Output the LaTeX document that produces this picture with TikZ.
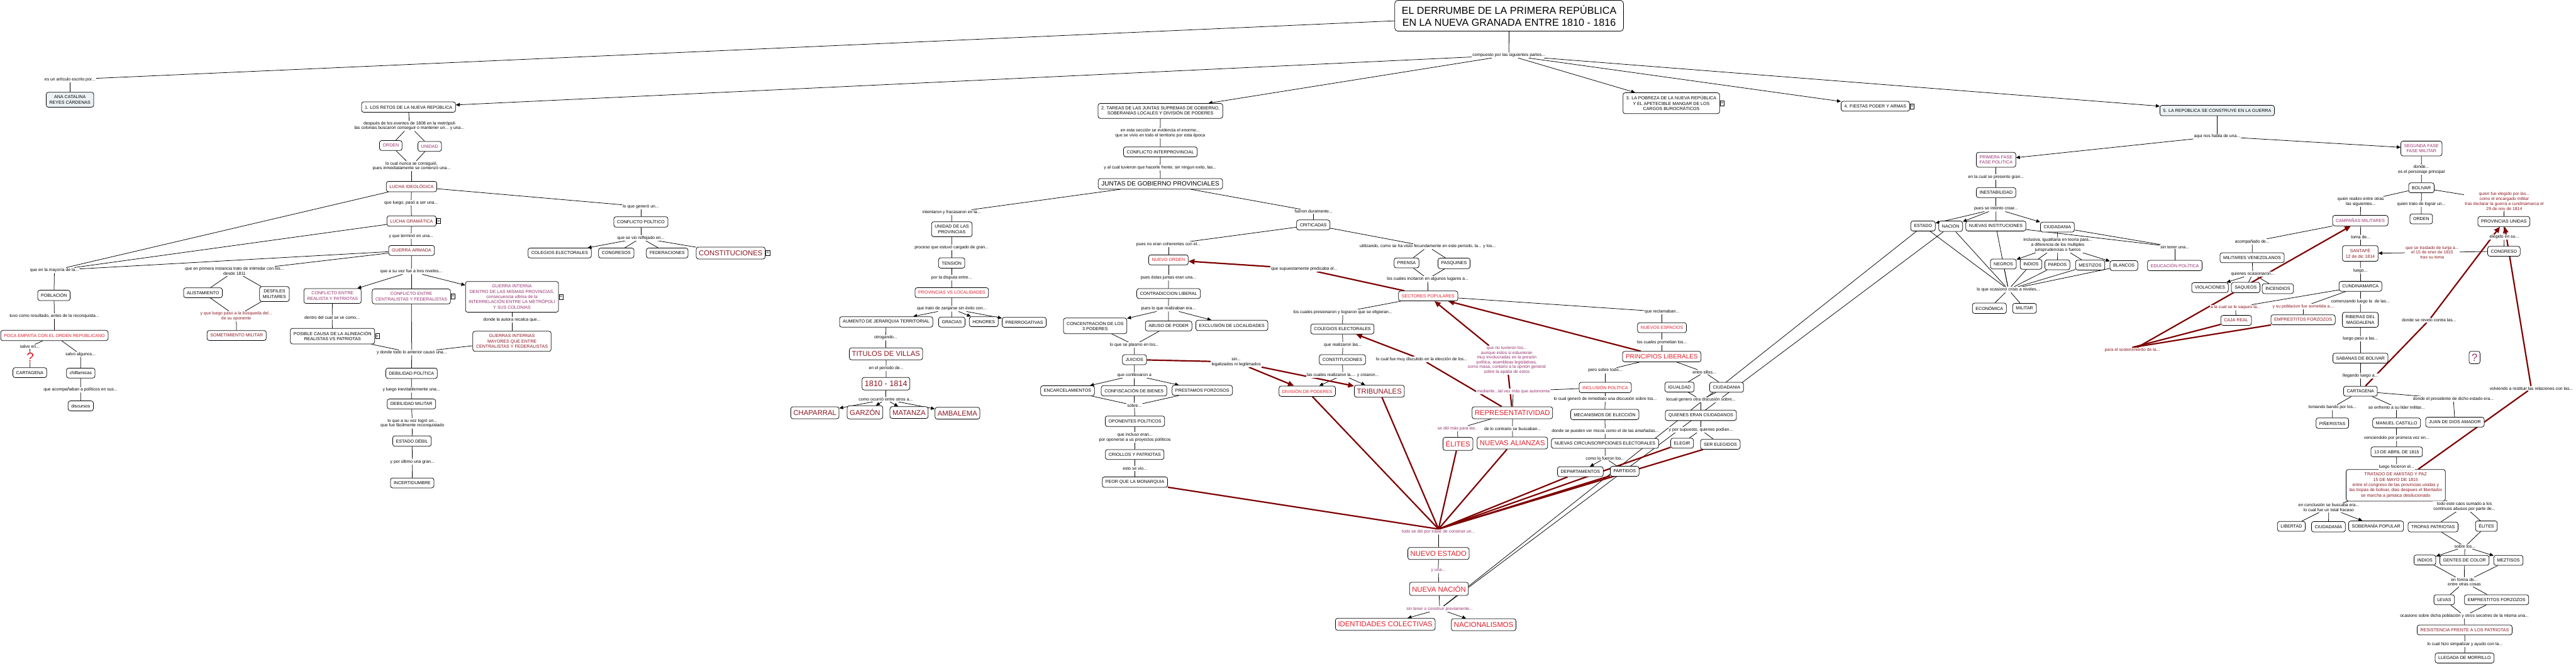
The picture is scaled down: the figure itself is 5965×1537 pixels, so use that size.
\documentclass[tikz,border=0pt]{standalone}
\usepackage{fontspec}
\setmainfont{Liberation Sans}
\usetikzlibrary{arrows.meta}
\definecolor{dred}{RGB}{140,22,32}
\definecolor{bred}{RGB}{228,28,40}
\definecolor{purp}{RGB}{150,48,110}
\definecolor{lred}{RGB}{125,0,0}
\definecolor{lfill}{RGB}{236,242,244}
\pgfdeclarelayer{bg}
\pgfsetlayers{bg,main}
\newcommand\fLab{\fontsize{10}{11.3}\selectfont}
\newcommand\fBox{\fontsize{10.3}{12.2}\selectfont}
\newcommand\fBig{\fontsize{16.5}{19}\selectfont}
\newcommand\fMid{\fontsize{14.5}{17}\selectfont}
\newcommand\fTit{\fontsize{23.5}{28.7}\selectfont}
\tikzset{
 bx/.style={draw, rounded corners=5pt, fill=white, line width=1.1pt, align=center, inner xsep=7.5pt, inner ysep=7.5pt, minimum height=23pt, font=\fBox},
 bigbx/.style={bx, font=\fBig, inner ysep=8pt, inner xsep=6pt},
 midbx/.style={bx, font=\fMid, inner ysep=7pt},
 lb/.style={fill=white, inner sep=1.5pt, align=center, font=\fLab},
 tr/.style={text=bred}, td/.style={text=dred}, tp/.style={text=purp},
 mkst/.style={draw, fill=white, line width=0.8pt, inner sep=0.6pt, font=\fontsize{10}{10}\selectfont, minimum height=12pt, minimum width=9pt},
 cn/.style={line width=1.1pt, draw=black},
 ca/.style={cn, -{Triangle[length=9pt,width=8pt]}},
 rd/.style={line width=3.2pt, draw=lred},
 ra/.style={rd, -{Triangle[length=14pt,width=12pt]}},
}
\newcommand\mkr[1]{\node[mkst, anchor=west] at ([xshift=0.5pt]#1.east) {»};}
\begin{document}
\begin{tikzpicture}[x=1pt,y=-1pt]
\useasboundingbox (0,0) rectangle (5965,1537);
% ---------- title ----------
\node[bx, font=\fTit, inner xsep=16pt, inner ysep=11pt, rounded corners=7pt] (title) at (3494.5,36.5) {EL DERRUMBE DE LA PRIMERA REPÚBLICA\\EN LA NUEVA GRANADA ENTRE 1810 - 1816};
\node[lb] (l_comp) at (3494,128) {compuesto por las siguientes partes...};
\node[lb] (l_art) at (162,184) {es un artículo escrito por...};
\node[bx, fill=lfill] (ana) at (162,231) {ANA CATALINA\\REYES CÁRDENAS};
% ---------- section 1 ----------
\node[bx] (s1) at (946,248) {1. LOS RETOS DE LA NUEVA REPÚBLICA};
\node[lb] (l1a) at (948,291.6) {después de los eventos de 1808 en la metrópoli\\las colonias buscaron conseguir o mantener un... y una...};
\node[bx,tp] (orden1) at (905,337) {ORDEN};
\node[bx,tp] (unidad) at (995,339) {UNIDAD};
\node[lb] (l1b) at (953,384.6) {lo cual nunca se consiguió,\\pues inmediatamente se comenzó una...};
\node[bx,td] (lideo) at (953,432) {LUCHA IDEOLÓGICA};
\node[lb] (l1c) at (952,469.6) {que luego, pasó a ser una...};
\node[bx,td] (lgram) at (953,512) {LUCHA GRAMÁTICA}; \mkr{lgram}
\node[lb] (l1d) at (952,546.5) {y que terminó en una...};
\node[bx,td] (guerra) at (953,580) {GUERRA ARMADA};
\node[lb] (l1e) at (126,626) {que en la mayoría de la...};
\node[bx] (pobl) at (125,684) {POBLACIÓN};
\node[lb] (l1f) at (126,732) {tuvo como resultado, antes de la reconquista...};
\node[bx,tr] (poca) at (126,777) {POCA EMPATÍA CON EL ORDEN REPUBLICANO};
\node[lb] (l1g) at (69,803) {salvo en...};
\node[fill=white, inner sep=0pt, text=bred, font=\fontsize{30}{30}\selectfont] (q1) at (70,828) {?};
\node[bx] (cartag1) at (69,863) {CARTAGENA};
\node[lb] (l1h) at (186.5,821) {salvo algunos...};
\node[bx] (chifl) at (187,864) {chiflamicas};
\node[lb] (l1i) at (186.5,903) {que acompañaban a políticos en sus...};
\node[bx] (discur) at (187,940) {discursos};
\node[lb] (l1j) at (543,628) {que en primera instancia trato de intimidar con los...\\desde 1811};
\node[bx] (alist) at (470,678) {ALISTAMIENTO};
\node[bx] (desf) at (635.5,681) {DESFILES\\MILITARES};
\node[lb,td] (l1k) at (547,732.5) {y que luego paso a la búsqueda del...\\de su oponente};
\node[bx,td] (somet) at (548,777) {SOMETIMIENTO MILITAR};
\node[lb] (l1l) at (952.5,629) {que a su vez fue a tres niveles...};
\node[bx,tp] (cerp) at (770,685.5) {CONFLICTO ENTRE\\REALISTA Y PATRIOTAS};
\node[bx,tp] (ccf) at (952.5,686.5) {CONFLICTO ENTRE\\CENTRALISTAS Y FEDERALISTAS}; \mkr{ccf}
\node[bx,tp] (gint) at (1185.5,687.5) {GUERRA INTERNA\\DENTRO DE LAS MISMAS PROVINCIAS,\\consecuencia ultima de la\\INTERRELACIÓN ENTRE LA METRÓPOLI\\Y SUS COLONIAS}; \mkr{gint}
\node[lb] (l1m) at (769,735) {dentro del cual se ve como...};
\node[bx] (posib) at (770,778.5) {POSIBLE CAUSA DE LA ALINEACIÓN\\REALISTAS VS PATRIOTAS}; \mkr{posib}
\node[lb] (l1n) at (1185.5,741) {donde la autora recalca que...};
\node[bx,td] (gmay) at (1185.5,790.5) {GUERRAS INTERNAS\\MAYORES QUE ENTRE\\CENTRALISTAS Y FEDERALISTAS};
\node[lb] (l1o) at (953.5,816.7) {y donde todo lo anterior causó una...};
\node[bx] (debpol) at (953,864.5) {DEBILIDAD POLÍTICA};
\node[lb] (l1p) at (952.6,903) {y luego inevitablemente una...};
\node[bx] (debmil) at (952.7,935.6) {DEBILIDAD MILITAR};
\node[lb] (l1q) at (955,980.5) {lo que a su vez logró un...\\que fue fácilmente reconquistado};
\node[bx] (estdeb) at (954,1021.5) {ESTADO DÉBIL};
\node[lb] (l1r) at (955,1069.7) {y por último una gran...};
\node[bx] (incert) at (954.5,1118.5) {INCERTIDUMBRE};
\node[lb] (l1s) at (1484,478) {lo que generó un...};
\node[bx] (cpol) at (1484,514) {CONFLICTO POLÍTICO};
\node[lb] (l1t) at (1484,551) {que se vio reflejado en...};
\node[bx] (cole1) at (1296,586) {COLEGIOS ELECTORALES};
\node[bx] (congr) at (1427,586) {CONGRESOS};
\node[bx] (feder) at (1545,586) {FEDERACIONES};
\node[bigbx,td] (const1) at (1692,586) {CONSTITUCIONES}; \mkr{const1}
% ---------- section 2 ----------
\node[bx] (s2) at (2687,256.8) {2. TAREAS DE LAS JUNTAS SUPREMAS DE GOBIERNO,\\SOBERANÍAS LOCALES Y DIVISIÓN DE PODERES};
\node[lb] (l2a) at (2686.5,308.7) {en esta sección se evidencia el enorme...\\que se vivio en todo el territorio por esta época};
\node[bx] (cinter) at (2687,351.8) {CONFLICTO INTERPROVINCIAL};
\node[lb] (l2b) at (2686.5,388) {y al cual tuvieron que hacerle frente, sin ningun exito, las...};
\node[midbx] (juntas) at (2687,425.7) {JUNTAS DE GOBIERNO PROVINCIALES};
\node[lb] (l2c) at (2203.6,492) {intentaron y fracasaron en la...};
\node[bx] (unidadp) at (2204,531) {UNIDAD DE LAS\\PROVINCIAS};
\node[lb] (l2d) at (2203.6,572.7) {proceso que estuvó cargado de gran...};
\node[bx] (tension) at (2203.6,609) {TENSIÓN};
\node[lb] (l2e) at (2203.6,643) {por la disputa entre...};
\node[bx,tr] (provloc) at (2204,677.8) {PROVINCIAS VS LOCALIDADES};
\node[lb] (l2f) at (2203.6,715) {que trato de zanjarse sin éxito con...};
\node[bx] (aumento) at (2052,745.6) {AUMENTO DE JERARQUIA TERRITORIAL};
\node[bx] (gracias) at (2204,746) {GRACIAS};
\node[bx] (honores) at (2278,745) {HONORES};
\node[bx] (prerr) at (2371.6,746.5) {PRERROGATIVAS};
\node[lb] (l2g) at (2051,782) {otrogando...};
\node[bigbx,td] (titulos) at (2051.6,819.5) {TITULOS DE VILLAS};
\node[lb] (l2h) at (2052,853) {en el periodo de...};
\node[bigbx,td, font=\fontsize{18.5}{21}\selectfont] (y1810) at (2051.6,888.6) {1810 - 1814};
\node[lb] (l2i) at (2051,925) {como ocurrió entre otros a...};
\node[bigbx,td] (chap) at (1887,956) {CHAPARRAL};
\node[bigbx,td] (garzon) at (2003,955) {GARZÓN};
\node[bigbx,td] (matanza) at (2105,955.6) {MATANZA};
\node[bigbx,td] (ambal) at (2217,957) {AMBALEMA};
\node[lb] (l2j) at (3041.7,490) {fueron duramente...};
\node[bx] (critic) at (3041,521) {CRITICADAS};
\node[lb] (l2k) at (2705.6,566) {pues no eran coherentes con el...};
\node[bx,tr] (nuevord) at (2705.6,602) {NUEVO ORDEN};
\node[lb] (l2l) at (2705.6,643) {pues éstas juntas eran una...};
\node[bx] (contrad) at (2706,680) {CONTRADICCION LIBERAL};
\node[lb] (l2m) at (2705.6,715) {pues lo que realizaban era...};
\node[bx] (concen) at (2536,754.7) {CONCENTRACIÓN DE LOS\\3 PODERES};
\node[bx] (abuso) at (2706,755) {ABUSO DE PODER};
\node[bx] (exclu) at (2852.5,753.7) {EXCLUSIÓN DE LOCALIDADES};
\node[lb] (l2n) at (2626.8,799) {lo que se plasmo en los...};
\node[bx] (juicios) at (2627,833) {JUICIOS};
\node[lb] (l2o) at (2626.8,869) {que conllevaron a};
\node[bx] (encar) at (2472,905) {ENCARCELAMIENTOS};
\node[bx] (confis) at (2626,905) {CONFISCACIÓN DE BIENES};
\node[bx] (prest) at (2784,904) {PRESTAMOS FORZOSOS};
\node[lb] (l2p) at (2626.8,939) {sobre...};
\node[bx] (oponen) at (2628,975.6) {OPONENTES POLÍTICOS};
\node[lb] (l2q) at (2628,1013) {que incluso eran...\\por oponerse a us proyectos políticos};
\node[bx] (criollos) at (2627.5,1052.6) {CRIOLLOS Y PATRIOTAS};
\node[lb] (l2r) at (2628,1085) {esto se vio...};
\node[bx] (peor) at (2628,1116.7) {PEOR QUE LA MONARQUIA};
\node[lb] (l2s) at (2862.5,838.3) {sin...\\legalizados ni legitimados};
\node[lb] (l2t) at (3020,622.7) {que supuestamente predicaba el...};
\node[lb] (l2u) at (3306,571) {utilizando, como se ha visto fecundamente en este periodo, la... y los...};
\node[bx] (prensa) at (3257,609) {PRENSA};
\node[bx] (pasq) at (3367,610) {PASQUINES};
\node[lb] (l2v) at (3306,646) {los cuales incitaron en algunos lugares a...};
\node[bx,tr] (sectores) at (3307,685.5) {SECTORES POPULARES};
\node[lb] (l2w) at (3109.4,723) {los cuales presionaron y lograron que se eligieran...};
\node[bx] (cole2) at (3108.5,762) {COLEGIOS ELECTORALES};
\node[lb] (l2x) at (3109.4,799) {que realizaron las...};
\node[bx] (const2) at (3108.5,833) {CONSTITUCIONES};
\node[lb] (l2y) at (3109.4,868.8) {las cuales realizaron la.... y crearon...};
\node[bx,tr] (divis) at (3027,906) {DIVISIÓN DE PODERES};
\node[bigbx,td] (tribu) at (3194,906) {TRIBUNALES};
\node[lb] (l2z) at (3292,832.4) {lo cual fue muy discutido en la elección de los...};
\node[lb,tp, font=\fontsize{10}{10.9}\selectfont] (l3a) at (3489,834) {que no tuvieron los...\\aunque estos si estuvieran\\muy involucradas en la presión\\política, asambleas legislativas,\\como masa, contario a la opnión general\\sobre la apatia de estos};
\node[lb,tp] (l3b) at (3504,906.3) {mediante...tal vez más que autonomia};
% ---------- section 3 ----------
\node[bx] (s3) at (3870,239) {3. LA POBREZA DE LA NUEVA REPÚBLICA\\Y EL APETECIBLE MANGAR DE LOS\\CARGOS BUROCRÁTICOS}; \mkr{s3}
\node[lb] (l3c) at (3848.5,722) {que reclamaban...};
\node[bx,tr] (nesp) at (3848.5,759) {NUEVOS ESPACIOS};
\node[lb] (l3d) at (3848.5,793) {los cuales prometian los...};
\node[midbx,tr] (princ) at (3848,826) {PRINCIPIOS LIBERALES};
\node[lb] (l3e) at (3717,858) {pero sobre todo...};
\node[lb] (l3f) at (3946.5,862) {entre ellos...};
\node[bx,tr] (inclus) at (3717,897.5) {INCLUSIÓN POLÍTICA};
\node[bx] (igual) at (3889,896.5) {IGUALDAD};
\node[bx] (ciud3) at (3998,897) {CIUDADANIA};
\node[lb] (l3g) at (3717,924) {lo cual generó de inmediato una discusión sobre los...};
\node[lb] (l3h) at (3938.5,926) {locual genero otra discusión sobre...};
\node[bx] (mecan) at (3716,960) {MECANISMOS DE ELECCIÓN};
\node[bx] (quienes) at (3938.5,962) {QUIENES ERAN CIUDADANOS};
\node[bigbx,tr] (repres) at (3502,956) {REPRESENTATIVIDAD};
\node[lb,tp] (l3i) at (3375,992.8) {se dió más para las..};
\node[lb] (l3j) at (3502.5,992.8) {de lo contrario se buscaban...};
\node[bigbx,tr] (elites3) at (3376,1028) {ÉLITES};
\node[bigbx,tr] (nalian) at (3502,1026) {NUEVAS ALIANZAS};
\node[lb] (l3k) at (3717,998) {donde se pueden ver micos como el de las amañadas...};
\node[bx] (ncirc) at (3716.5,1027) {NUEVAS CIRCUNSCRIPCIONES ELECTORALES};
\node[lb] (l3l) at (3938.5,995.5) {y por supuesto, quienes podían...};
\node[bx] (elegir) at (3895,1026.5) {ELEGIR};
\node[bx] (serel) at (3983.5,1029) {SER ELEGIDOS};
\node[lb] (l3m) at (3717,1061) {como lo fueron los...};
\node[bx] (depto) at (3659.5,1092.5) {DEPARTAMENTOS};
\node[bx] (partid) at (3762,1091.5) {PARTIDOS};
\node[lb,tp] (hub) at (3331,1231.7) {todo se dió por tratar de construir un...};
\node[bigbx,tr] (nest) at (3331,1282) {NUEVO ESTADO};
\node[lb,tp] (l3n) at (3330.5,1322) {y una...};
\node[bigbx,tr] (nnac) at (3332,1363.7) {NUEVA NACIÓN};
\node[lb,tp] (l3o) at (3333.7,1410.7) {sin tener o construir previamente...};
\node[bigbx,tr] (ident) at (3207.7,1445.8) {IDENTIDADES COLECTIVAS};
\node[bigbx,tr] (nacion) at (3435.5,1446.8) {NACIONALISMOS};
% ---------- section 4 / 5 ----------
\node[bx] (s4) at (4342.5,246) {4. FIESTAS PODER Y ARMAS}; \mkr{s4}
\node[bx, fill=lfill] (s5) at (5134,256) {5. LA REPÚBLICA SE CONSTRUYE EN LA GUERRA};
\node[lb] (l5a) at (5134,316) {aqui nos habla de una...};
\node[bx,tp] (fase1) at (4622,370) {PRIMERA FASE\\FASE POLITICA};
\node[bx,tp] (fase2) at (5607,344) {SEGUNDA FASE\\FASE MILITAR};
\node[lb] (l5b) at (4622,409.7) {en la cual se presento gran...};
\node[bx] (inest) at (4622,446) {INESTABILIDAD};
\node[lb] (l5c) at (4622,483.6) {pues se intento crear...};
\node[bx] (estado5) at (4453,523.5) {ESTADO};
\node[bx] (nacion5) at (4517,524) {NACIÓN};
\node[bx] (ninst) at (4621.6,523.5) {NUEVAS INSTITUCIONES};
\node[bx] (ciud5) at (4764,526) {CIUDADANIA};
\node[lb] (l5d) at (4765,567.4) {inclusiva, igualitaria en teoria para...\\a diferencia de los multiples\\jurisprudencias o fueros};
\node[bx] (negros) at (4639,611.5) {NEGROS};
\node[bx] (indios5) at (4703,612) {INDIOS};
\node[bx] (pardos) at (4764,613.4) {PARDOS};
\node[bx] (mestizos) at (4840,614) {MESTIZOS};
\node[bx] (blancos) at (4918,615) {BLANCOS};
\node[lb] (l5e) at (5036,572) {sin tener una...};
\node[bx,tp] (educ) at (5036,615) {EDUCACIÓN POLÍTICA};
\node[lb] (l5f) at (4650.6,670.7) {lo que ocasionó crisis a niveles...};
\node[bx] (econ) at (4606.6,714) {ECONÓMICA};
\node[bx] (milit) at (4688,714) {MILITAR};
\node[lb] (l5g) at (5606.8,393) {donde...\\es el personaje principal};
\node[bx] (bolivar) at (5607,435) {BOLIVAR};
\node[lb] (l5h) at (5466.5,467) {quien realizo entre otras\\las siguientes...};
\node[lb] (l5i) at (5606.8,473) {quien trato de lograr un...};
\node[lb,td] (l5j) at (5798.8,466) {quien fue elegido por las...\\como el encargado militar\\tras declarar la guerra a cundinamarca el\\29 de nov de 1814};
\node[bx] (orden5) at (5606.5,507) {ORDEN};
\node[bx,tp] (campan) at (5465.5,511) {CAMPAÑAS MILITARES};
\node[bx] (provun) at (5798,513) {PROVINCIAS UNIDAS};
\node[lb] (l5k) at (5466.5,549.4) {toma de...};
\node[lb] (l5l) at (5798.8,549) {elegido en su...};
\node[lb] (l5m) at (5215.4,559.7) {acompañado de...};
\node[bx] (milven) at (5215,597) {MILITARES VENEZOLANOS};
\node[lb] (l5n) at (5216.6,634.7) {quienes ocasionaron...};
\node[bx] (viol) at (5117.5,666) {VIOLACIONES};
\node[bx] (saqueos) at (5200,666) {SAQUEOS};
\node[bx] (incend) at (5274.5,668.5) {INCENDIOS};
\node[bx,td] (santafe) at (5465.4,587) {SANTAFÉ\\12 de dic 1814};
\node[lb,td] (l5o) at (5632,584.6) {que se traslado de tunja a...\\el 15 de ener de 1815\\tras su toma};
\node[bx] (congreso) at (5798,582) {CONGRESO};
\node[lb] (l5p) at (5465.8,627) {luego...};
\node[bx] (cundi) at (5465.8,663) {CUNDINAMARCA};
\node[lb,td] (l5q) at (5176.6,712) {a la cual se le saqueo la...};
\node[lb,td] (l5r) at (5334,710) {y su poblacion fue sometida a....};
\node[lb] (l5s) at (5465.8,697.9) {comenzando luego la \ de las...};
\node[bx,td] (caja) at (5178,742) {CAJA REAL};
\node[bx,td] (empr1) at (5333,740.6) {EMPRESTITOS FORZOZOS};
\node[bx] (riberas) at (5465.5,740.7) {RIBERAS DEL\\MAGDALENA};
\node[lb] (l5t) at (5624.6,741.5) {donde se revelo contra las...};
\node[lb] (l5u) at (5465.8,784.8) {luego paso a las...};
\node[lb,td] (l5v) at (4937.6,811) {para el sostenimiento de la...};
\node[bx] (sabanas) at (5465.8,829.6) {SABANAS DE BOLIVAR};
\node[bx,tp, font=\fontsize{24}{24}\selectfont, inner xsep=6pt, inner ysep=6pt] (q2) at (5730,828) {?};
\node[lb] (l5w) at (5465.8,870.5) {llegando luego a...};
\node[bx] (cartag5) at (5465.8,906) {CARTAGENA};
\node[lb] (l5x) at (5861.5,899.6) {volviendo a restituir las relaciones con las...};
\node[lb] (l5y) at (5681,924) {donde el presidente de dicho estado era...};
\node[lb] (l5z) at (5401,943.7) {tomando bando por los...};
\node[lb] (l6a) at (5549.6,943.7) {se enfrento a su lider militar...};
\node[bx] (pineri) at (5400.7,980) {PIÑERISTAS};
\node[bx] (castillo) at (5549.6,979.6) {MANUEL CASTILLO};
\node[bx] (amador) at (5684.6,977.6) {JUAN DE DIOS AMADOR};
\node[lb] (l6b) at (5549.6,1014.5) {venciendolo por promera vez en...};
\node[bx] (abril) at (5549.7,1046.6) {13 DE ABRIL DE 1815};
\node[bx,td] (tratado) at (5547.5,1124) {TRATADO DE AMISTAD Y PAZ\\15 DE MAYO DE 1815\\entre el congreso de las provincias unidas y\\las tropas de bolivar, dias despues el libertador\\se marcha a jamaica desilucionado};
\node[lb] (l6c) at (5549.6,1081) {luego hicieron el...};
\node[lb] (l6d) at (5392.6,1175.6) {en conclusión se buscaba era...\\lo cual fue un total fracaso};
\node[lb] (l6e) at (5706.5,1173) {todo este caos sumado a los\\contínuos abusos por parte de...};
\node[bx] (libert) at (5305.8,1219) {LIBERTAD};
\node[bx] (ciud6) at (5391.7,1220) {CIUDADANÍA};
\node[bx] (sobpop) at (5502,1218.7) {SOBERANÍA POPULAR};
\node[bx] (tropas) at (5634,1220.4) {TROPAS PATRIOTAS};
\node[bx] (elites6) at (5757.4,1218.4) {ÉLITES};
\node[lb] (l6f) at (5707.7,1266) {sobre los...};
\node[bx] (indios6) at (5615,1297) {INDIOS};
\node[bx] (gentes) at (5706.7,1297.8) {GENTES DE COLOR};
\node[bx] (meztis) at (5808.5,1297.8) {MEZTISOS};
\node[lb] (l6g) at (5706.5,1348) {en forma de...\\entre otras cosas};
\node[bx] (levas) at (5659.7,1389) {LEVAS};
\node[bx] (empr2) at (5781,1389) {EMPRESTITOS FORZOZOS};
\node[lb] (l6h) at (5706.5,1426.6) {ocasiono sobre dicha población y otros secotres de la misma una...};
\node[bx,td] (resist) at (5707,1459) {RESISTENCIA FRENTE A LOS PATRIOTAS};
\node[lb] (l6i) at (5707.7,1492) {lo cual hizo simpatizar y ayudo con la...};
\node[bx] (morrillo) at (5707,1524) {LLEGADA DE MORRILLO};
% ---------- connectors ----------
\begin{pgfonlayer}{bg}
\foreach \a/\b in {title/l_art, l_art/ana, title/l_comp,
 s1/l1a, l1a/orden1, l1a/unidad, orden1/l1b, unidad/l1b, l1b/lideo, lideo/l1c, l1c/lgram, lgram/l1d, l1d/guerra,
 lideo/l1e, lgram/l1e, guerra/l1e, guerra/l1j, l1e/pobl, pobl/l1f, l1f/poca, poca/l1g, l1g/q1, q1/cartag1, poca/l1h, l1h/chifl, chifl/l1i, l1i/discur,
 l1j/alist, l1j/desf, alist/l1k, desf/l1k, l1k/somet,
 guerra/l1l, l1l/ccf, cerp/l1m, l1m/posib, gint/l1n, l1n/gmay, posib/l1o, ccf/l1o, gmay/l1o, l1o/debpol, debpol/l1p, l1p/debmil, debmil/l1q, l1q/estdeb, estdeb/l1r, l1r/incert,
 lideo/l1s, l1s/cpol, cpol/l1t, l1t/congr, l1t/feder, l1t/const1,
 s2/l2a, l2a/cinter, cinter/l2b, l2b/juntas, juntas/l2c, l2c/unidadp, unidadp/l2d, l2d/tension, tension/l2e, l2e/provloc, provloc/l2f, l2f/gracias,
 aumento/l2g, l2g/titulos, titulos/l2h, l2h/y1810, y1810/l2i,
 juntas/l2j, l2j/critic, critic/l2k, l2k/nuevord, nuevord/l2l, l2l/contrad, contrad/l2m, l2m/abuso, concen/l2n, abuso/l2n, l2n/juicios, juicios/l2o, l2o/confis, encar/l2p, confis/l2p, prest/l2p, l2p/oponen, oponen/l2q, l2q/criollos, criollos/l2r, l2r/peor,
 critic/l2u, l2u/prensa, l2u/pasq, prensa/l2v, pasq/l2v, l2v/sectores,
 sectores/l2w, l2w/cole2, cole2/l2x, l2x/const2, const2/l2y,
 sectores/l3c, l3c/nesp, nesp/l3d, l3d/princ, princ/l3e, l3e/inclus, princ/l3f, l3f/igual, l3f/ciud3,
 inclus/l3g, l3g/mecan, mecan/l3k, l3k/ncirc, ncirc/l3m, l3m/partid,
 igual/l3h, ciud3/l3h, l3h/quienes, quienes/l3l, l3l/elegir, l3l/serel,
 inclus/l3b, l3b/repres, repres/l3i, l3i/elites3, repres/l3j, l3j/nalian,
 hub/nest, nest/l3n, l3n/nnac, nnac/l3o, estado5/l3o, nacion5/l3o,
 s5/l5a, fase1/l5b, l5b/inest, inest/l5c, l5c/ninst, ciud5/l5d, l5d/indios5, l5d/pardos, l5d/mestizos,
 ninst/l5e, ciud5/l5e, l5e/educ,
 estado5/l5f, nacion5/l5f, ninst/l5f, negros/l5f, indios5/l5f, pardos/l5f, mestizos/l5f, blancos/l5f, l5f/econ, l5f/milit,
 fase2/l5g, l5g/bolivar, bolivar/l5h, l5h/campan, bolivar/l5i, l5i/orden5, bolivar/l5j, l5j/provun,
 campan/l5k, l5k/santafe, santafe/l5p, l5p/cundi, cundi/l5s, l5s/riberas, riberas/l5u, l5u/sabanas, sabanas/l5w, l5w/cartag5,
 provun/l5l, l5l/congreso, congreso/l5o,
 campan/l5m, l5m/milven, milven/l5n, l5n/saqueos, l5n/incend,
 cundi/l5q, l5q/caja, cundi/l5r, l5r/empr1,
 cartag5/l5y, l5y/amador, cartag5/l5z, l5z/pineri, cartag5/l6a, l6a/castillo, castillo/l6b, l6b/abril, abril/l6c,
 tratado/l6d, l6d/libert, l6d/ciud6, tratado/l6e, l6e/tropas, l6e/elites6, tropas/l6f, elites6/l6f, l6f/gentes,
 indios6/l6g, gentes/l6g, meztis/l6g, l6g/levas, l6g/empr2, levas/l6h, empr2/l6h, l6h/resist, resist/l6i, l6i/morrillo}
 \draw[cn] (\a) -- (\b);
\foreach \a/\b in {l_comp/s1, l_comp/s2, l_comp/s3, l_comp/s4, l_comp/s5,
 l1l/cerp, l1l/gint, l1t/cole1,
 l2f/aumento, l2f/honores, l2f/prerr,
 l2i/chap, l2i/garzon, l2i/matanza, l2i/ambal,
 l2m/concen, l2m/exclu, l2o/encar, l2o/prest, l2y/divis, l2y/tribu,
 l3m/depto, l3o/ident, l3o/nacion,
 l5a/fase1, l5a/fase2, l5c/estado5, l5c/nacion5, l5c/ciud5, l5d/negros, l5d/blancos,
 l5o/santafe, l5n/viol, l6d/sobpop, l6f/indios6, l6f/meztis}
 \draw[ca] (\a) -- (\b);
\foreach \a/\b in {juicios/l2s, sectores/l2t, repres/l3a, repres/l2z, cartag5/l5t, tratado/l5x}
 \draw[rd] (\a) -- (\b);
\foreach \a in {caja, empr1}
 \draw[rd] (\a) -- (l5v.north);
\foreach \a in {divis, tribu, elites3, nalian, depto, partid, elegir, serel, peor}
 \draw[rd] (\a) -- (hub.north);
\foreach \a/\b in {l2s/divis, l2s/tribu, l2t/nuevord, princ/sectores, l3a/sectores, l2z/cole2, l5v/campan, l5t/provun, l5x/provun}
 \draw[ra] (\a) -- (\b);
\end{pgfonlayer}
\end{tikzpicture}
\end{document}
